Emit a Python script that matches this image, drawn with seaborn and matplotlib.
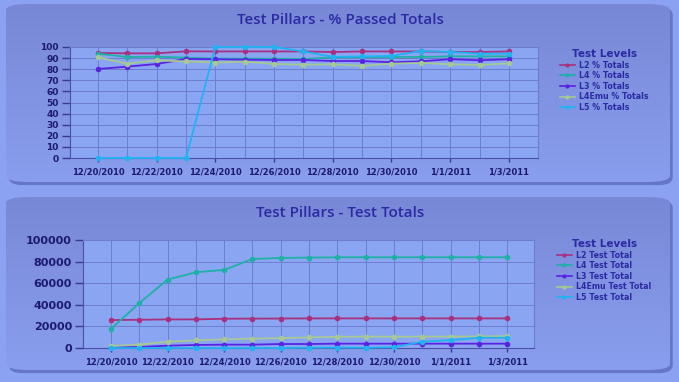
import pandas as pd
import numpy as np
import matplotlib
matplotlib.use("Agg")
import matplotlib.pyplot as plt
import matplotlib.dates as mdates
from matplotlib.patches import FancyBboxPatch
import seaborn as sns

# dates on the x axis (one point per day)
dates = ["2010-12-20", "2010-12-21", "2010-12-22", "2010-12-23", "2010-12-24",
         "2010-12-25", "2010-12-26", "2010-12-27", "2010-12-28", "2010-12-29",
         "2010-12-30", "2010-12-31", "2011-01-01", "2011-01-02", "2011-01-03"]

# % passed totals
l2_pct = [94.6, 94.3, 94.3, 96.1, 96.0, 96.0, 96.0, 96.0, 95.5, 96.0, 96.0, 96.0, 95.5, 95.5, 96.0]
l4_pct = [94.0, 91.0, 91.3, 90.4, 89.5, 89.5, 89.5, 89.2, 90.6, 91.0, 91.0, 91.0, 91.6, 91.6, 91.6]
l3_pct = [80.2, 82.3, 84.7, 89.2, 89.0, 88.6, 88.3, 88.3, 87.4, 87.4, 86.2, 87.1, 89.0, 88.0, 89.0]
l4emu_pct = [90.7, 85.0, 88.0, 87.0, 86.0, 86.8, 84.7, 84.1, 84.4, 83.0, 85.0, 85.6, 84.4, 83.8, 85.3]
l5_pct = [0, 0, 0, 0, 100, 100, 100, 96.0, 91.0, 91.5, 92.0, 96.4, 95.5, 94.0, 94.0]

# test totals
l2_tot = [25850, 26150, 26450, 26500, 27100, 27200, 27300, 27400, 27400, 27400, 27400, 27400, 27400, 27400, 27400]
l4_tot = [17800, 41500, 63400, 70100, 72300, 82400, 83400, 83700, 84000, 84000, 84000, 84000, 84000, 84000, 84000]
l3_tot = [600, 900, 2150, 2800, 3100, 3100, 3700, 3700, 4000, 4000, 4000, 4000, 4000, 4000, 4000]
l4emu_tot = [1850, 3100, 5850, 7100, 8000, 8600, 9200, 9850, 10400, 10500, 10500, 10500, 10600, 10700, 11000]
l5_tot = [0, 0, 0, 0, 0, 0, 0, 300, 400, 300, 700, 5800, 7300, 9500, 9500]

levels = ["L2", "L4", "L3", "L4Emu", "L5"]
colors = ["#a8307e", "#1fb0a6", "#5a22e2", "#a6c895", "#22b2f2"]

dt = pd.to_datetime(dates)
pct = pd.DataFrame({"Date": np.tile(dt, 5),
                    "Value": l2_pct + l4_pct + l3_pct + l4emu_pct + l5_pct,
                    "Level": np.repeat([l + " % Totals" for l in levels], len(dates))})
tot = pd.DataFrame({"Date": np.tile(dt, 5),
                    "Value": l2_tot + l4_tot + l3_tot + l4emu_tot + l5_tot,
                    "Level": np.repeat([l + " Test Total" for l in levels], len(dates))})

W, H = 679, 382
BG = "#8ba1f1"
fig = plt.figure(figsize=(W / 100, H / 100), dpi=100, facecolor=BG)


def panel(x0, y0, x1, y1):
    # shadow + rounded panel with a soft vertical gradient
    sh = FancyBboxPatch((x0 / W + 0.004, 1 - y1 / H - 0.008), (x1 - x0) / W, (y1 - y0) / H,
                        boxstyle="round,pad=0,rounding_size=0.02", transform=fig.transFigure,
                        facecolor="#6576c6", edgecolor="none", zorder=-3)
    fig.patches.append(sh)
    bg = fig.add_axes([x0 / W, 1 - y1 / H, (x1 - x0) / W, (y1 - y0) / H])
    bg.set_zorder(-1)
    grad = np.linspace(0, 1, 100).reshape(-1, 1)
    cmap = matplotlib.colors.LinearSegmentedColormap.from_list("g", ["#7888d6", "#899eee"])
    im = bg.imshow(grad, aspect="auto", cmap=cmap, extent=[0, 1, 0, 1], origin="upper")
    im.set_clip_path(FancyBboxPatch((0, 0), 1, 1, boxstyle="round,pad=0,rounding_size=0.035",
                                    transform=bg.transAxes))
    bg.set_xlim(0, 1)
    bg.set_ylim(0, 1)
    bg.axis("off")


panel(6, 4, 670, 182)
panel(6, 197, 670, 370)

TXT = "#2b2aa2"
TICK = "#1c1a6e"


def style_axes(ax, left, right, top, bottom, yticks, ylim, xl):
    ax.set_position([left / W, 1 - bottom / H, (right - left) / W, (bottom - top) / H])
    ax.set_facecolor("#8aa6f2")
    ax.set_ylim(*ylim)
    ax.set_yticks(yticks)
    ax.set_xlim(xl)
    ax.set_xticks(dt[::2])
    ax.set_xticks(dt, minor=True)
    ax.set_xticklabels(["{d.month}/{d.day}/{d.year}".format(d=d) for d in dt[::2]])
    ax.grid(True, which="both", color="#6c7dcc", linewidth=0.7)
    ax.set_axisbelow(True)
    for s in ax.spines.values():
        s.set_color("#6c7dcc")
        s.set_linewidth(0.8)
    ax.spines["left"].set_color("#4a50a8")
    ax.spines["bottom"].set_color("#4a50a8")
    ax.tick_params(axis="y", length=6, width=1, color="#3a3a90", labelsize=6.5, labelcolor=TICK, pad=2)
    ax.tick_params(axis="x", which="major", length=3, width=1, color="#3a3a90", labelsize=6, labelcolor=TICK, pad=4)
    ax.tick_params(axis="x", which="minor", length=0)
    for lab in ax.get_xticklabels() + ax.get_yticklabels():
        lab.set_fontweight("bold")
    for ln in ax.get_lines():
        ln.set_clip_on(False)
        ln.set_zorder(3)
    ax.set_xlabel("")
    ax.set_ylabel("")


d0 = mdates.date2num(dt[0])
ax1 = fig.add_axes([0.1, 0.6, 0.7, 0.3])
sns.lineplot(data=pct, x="Date", y="Value", hue="Level", palette=colors, marker="o",
             markersize=4, markeredgewidth=0, linewidth=1.3, ax=ax1)
style_axes(ax1, 70, 538, 47, 158, range(0, 101, 10), (0, 100), (d0 - 0.95, d0 + 14.99))

ax2 = fig.add_axes([0.1, 0.1, 0.7, 0.3])
sns.lineplot(data=tot, x="Date", y="Value", hue="Level", palette=colors, marker="o",
             markersize=4, markeredgewidth=0, linewidth=1.3, ax=ax2)
style_axes(ax2, 83, 534, 240, 348, range(0, 100001, 20000), (0, 100000), (d0 - 0.99, d0 + 14.95))
ax2.tick_params(axis="y", labelsize=8)
for lab in ax2.get_yticklabels():
    lab.set_fontweight("bold")

for ax, ttl, ty, lx, ly in [(ax1, "Test Pillars - % Passed Totals", 20, 556, 45),
                           (ax2, "Test Pillars - Test Totals", 213, 553, 235)]:
    fig.text(340 / W, 1 - ty / H, ttl, ha="center", va="center", fontsize=11,
             color=TXT, fontweight="semibold", family=["Open Sans", "DejaVu Sans"])
    leg = ax.legend(loc="upper left", bbox_to_anchor=(lx / W, 1 - ly / H),
                    bbox_transform=fig.transFigure, frameon=False, fontsize=5.7,
                    title="Test Levels", handlelength=1.9, handletextpad=0.5,
                    labelspacing=0.2, borderpad=0)
    leg.get_title().set_fontsize(7.5)
    leg.get_title().set_fontweight("bold")
    leg.get_title().set_color(TXT)
    leg._legend_box.align = "center"
    for t in leg.get_texts():
        t.set_color(TXT)
        t.set_fontweight("bold")
    for h in leg.get_lines():
        h.set_markersize(3)
        h.set_linewidth(1.2)

fig.savefig("out.png", dpi=100, facecolor=BG)
